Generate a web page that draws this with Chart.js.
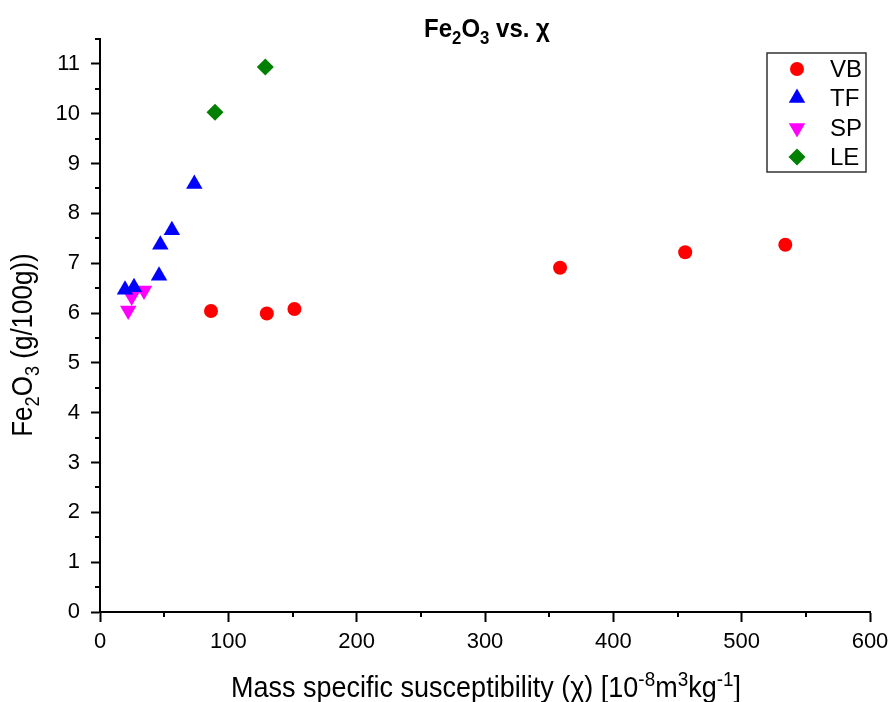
<!DOCTYPE html>
<html>
<head>
<meta charset="utf-8">
<script src="https://cdn.jsdelivr.net/npm/chart.js@4/dist/chart.umd.min.js"></script>
<style>
  html, body { margin: 0; padding: 0; background: #fff; }
  canvas { display: block; }
</style>
</head>
<body>
<canvas id="chart" width="893" height="702"></canvas>
<script>
// values
const vbX = [86.5, 130, 151.5, 358.5, 456, 534];
const vbY = [6.04, 5.99, 6.08, 6.91, 7.22, 7.37];
const tfX = [19.5, 26.5, 46, 47, 56, 73.5];
const tfY = [6.47, 6.52, 6.75, 7.37, 7.66, 8.59];
const spX = [22, 24.7, 34.3];
const spY = [6.05, 6.33, 6.45];
const leX = [89.6, 128.8];
const leY = [10.03, 10.94];

const xTicks = [0, 100, 200, 300, 400, 500, 600];
const yTicks = [0, 1, 2, 3, 4, 5, 6, 7, 8, 9, 10, 11];
const xMinor = [50, 150, 250, 350, 450, 550];
const yMinor = [0.5, 1.5, 2.5, 3.5, 4.5, 5.5, 6.5, 7.5, 8.5, 9.5, 10.5, 11.5];

// rich text pieces: [text, mode]
const titleParts = [['Fe', ''], ['2', 'sub'], ['O', ''], ['3', 'sub'], [' vs. \u03C7', '']];
const xTitleParts = [['Mass specific susceptibility (\u03C7) [10', ''], ['-8', 'sup'], ['m', ''], ['3', 'sup'], ['kg', ''], ['-1', 'sup'], [']', '']];
const yTitleParts = [['Fe', ''], ['2', 'sub'], ['O', ''], ['3', 'sub'], [' (g/100g))', '']];

const FONT = '"Liberation Sans", Arial, sans-serif';

function toPoints(xs, ys) {
    return xs.map((x, i) => ({ x: x, y: ys[i] }));
}

function richWidth(ctx, parts, size, weight) {
    let w = 0;
    for (const [t, mode] of parts) {
        const s = mode ? size * 0.7 : size;
        ctx.font = weight + ' ' + s + 'px ' + FONT;
        w += ctx.measureText(t).width;
    }
    return w;
}

// draws centred text with sub/superscripts, a little taller than wide like the original
function drawRich(ctx, parts, cx, baseline, size, weight, stretch) {
    ctx.save();
    ctx.translate(cx, baseline);
    ctx.scale(1, stretch || 1);
    let x = -richWidth(ctx, parts, size, weight) / 2;
    ctx.textBaseline = 'alphabetic';
    ctx.textAlign = 'left';
    for (const [t, mode] of parts) {
        const s = mode ? size * 0.7 : size;
        let dy = 0;
        if (mode === 'sub') dy = size * 0.25;
        if (mode === 'sup') dy = -size * 0.38;
        ctx.font = weight + ' ' + s + 'px ' + FONT;
        ctx.fillText(t, x, dy);
        x += ctx.measureText(t).width;
    }
    ctx.restore();
}

const decorPlugin = {
    id: 'decor',
    afterDraw(chart) {
        const ctx = chart.ctx;
        const xs = chart.scales.x;
        const ys = chart.scales.y;
        const area = chart.chartArea;
        ctx.save();
        ctx.fillStyle = '#000';
        ctx.strokeStyle = '#000';

        // minor ticks
        ctx.lineWidth = 2;
        ctx.beginPath();
        for (const v of xMinor) {
            const px = Math.round(xs.getPixelForValue(v));
            ctx.moveTo(px, area.bottom);
            ctx.lineTo(px, area.bottom + 5);
        }
        for (const v of yMinor) {
            const py = Math.round(ys.getPixelForValue(v));
            ctx.moveTo(area.left, py);
            ctx.lineTo(area.left - 5, py);
        }
        ctx.stroke();

        // titles
        drawRich(ctx, titleParts, 487, 37, 24, 'bold', 1.1);
        drawRich(ctx, xTitleParts, 486, 697, 27, 'normal', 1.1);
        ctx.save();
        ctx.translate(32, 345);
        ctx.rotate(-Math.PI / 2);
        drawRich(ctx, yTitleParts, 0, 0, 26, 'normal', 1.1);
        ctx.restore();

        // legend box
        const lx = 767, ly = 53, lw = 99, lh = 119;
        ctx.lineWidth = 1.5;
        ctx.strokeStyle = '#333';
        ctx.strokeRect(lx, ly, lw, lh);
        const rowY = [69, 98, 128, 157];
        chart.data.datasets.forEach((ds, i) => {
            ctx.fillStyle = ds.backgroundColor;
            ctx.strokeStyle = ds.borderColor;
            ctx.lineWidth = 0;
            Chart.helpers.drawPoint(ctx, {
                pointStyle: ds.pointStyle,
                radius: ds.pointRadius,
                rotation: ds.pointRotation || 0,
                borderWidth: 0
            }, 797, rowY[i]);
            ctx.fillStyle = '#000';
            ctx.font = '24px ' + FONT;
            ctx.textAlign = 'left';
            ctx.textBaseline = 'middle';
            ctx.fillText(ds.label, 830, rowY[i] + 1);
        });
        ctx.restore();
    }
};

const tickFont = { family: FONT, size: 22 };

new Chart(document.getElementById('chart'), {
    type: 'scatter',
    data: {
        datasets: [
            {
                label: 'VB', data: toPoints(vbX, vbY),
                pointStyle: 'circle', pointRadius: 7, pointHoverRadius: 7,
                backgroundColor: '#ff0000', borderColor: '#ff0000', borderWidth: 0
            },
            {
                label: 'TF', data: toPoints(tfX, tfY),
                pointStyle: 'triangle', pointRadius: 9.5, pointHoverRadius: 9.5,
                backgroundColor: '#0000ff', borderColor: '#0000ff', borderWidth: 0
            },
            {
                label: 'SP', data: toPoints(spX, spY),
                pointStyle: 'triangle', pointRotation: 180, pointRadius: 9.5, pointHoverRadius: 9.5,
                backgroundColor: '#ff00ff', borderColor: '#ff00ff', borderWidth: 0
            },
            {
                label: 'LE', data: toPoints(leX, leY),
                pointStyle: 'rectRot', pointRadius: 8.5, pointHoverRadius: 8.5,
                backgroundColor: '#008000', borderColor: '#008000', borderWidth: 0
            }
        ]
    },
    options: {
        responsive: false,
        animation: false,
        devicePixelRatio: 1,
        layout: { padding: { left: 40, right: 23, top: 39, bottom: 50 } },
        plugins: {
            legend: { display: false },
            title: { display: false },
            tooltip: { enabled: false }
        },
        scales: {
            x: {
                type: 'linear',
                min: 0,
                max: 600,
                afterBuildTicks: scale => { scale.ticks = xTicks.map(v => ({ value: v })); },
                afterFit: scale => {
                    scale.height = 40;
                    scale.paddingLeft = 0;
                    scale.paddingRight = 0;
                },
                grid: { drawOnChartArea: false, tickLength: 10, tickWidth: 2, tickColor: '#000' },
                border: { color: '#000', width: 2 },
                ticks: { font: tickFont, color: '#000', padding: 7, maxRotation: 0 }
            },
            y: {
                type: 'linear',
                min: 0,
                max: 11.5,
                afterBuildTicks: scale => { scale.ticks = yTicks.map(v => ({ value: v })); },
                afterFit: scale => {
                    scale.width = 60;
                    scale.paddingTop = 0;
                    scale.paddingBottom = 0;
                },
                grid: { drawOnChartArea: false, tickLength: 9, tickWidth: 2, tickColor: '#000' },
                border: { color: '#000', width: 2 },
                ticks: { font: tickFont, color: '#000', padding: 11 }
            }
        }
    },
    plugins: [decorPlugin]
});
</script>
</body>
</html>
